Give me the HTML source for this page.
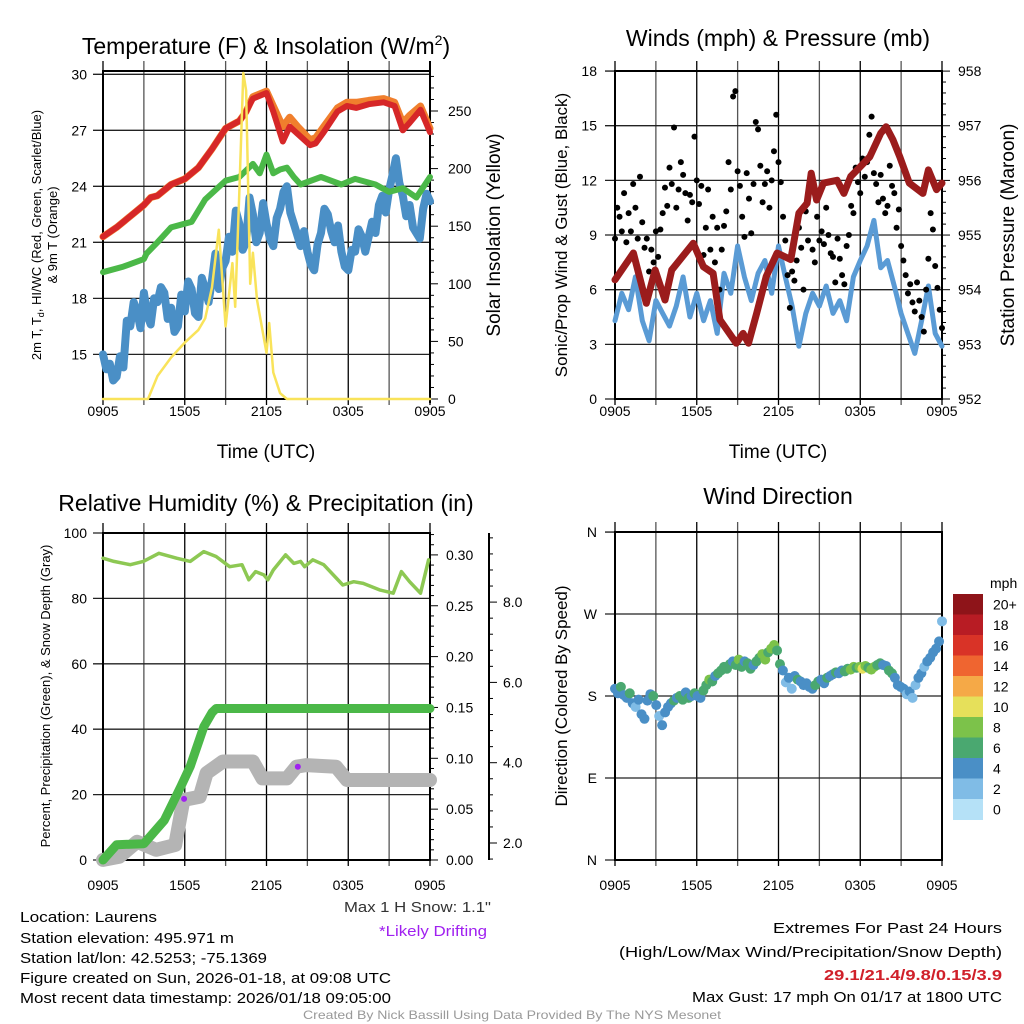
<!DOCTYPE html>
<html><head><meta charset="utf-8"><style>
html,body{margin:0;padding:0;background:#fff;}
svg{display:block;font-family:"Liberation Sans",Arial,sans-serif;}
</style></head><body>
<svg id="chart" width="1024" height="1024" viewBox="0 0 1024 1024" xmlns="http://www.w3.org/2000/svg">
<rect x="0" y="0" width="1024" height="1024" fill="#fff"/>
<text x="266" y="54" font-size="23" text-anchor="middle">Temperature (F) &amp; Insolation (W/m<tspan dy="-9" font-size="14">2</tspan><tspan dy="9">)</tspan></text>
<text x="778" y="46" font-size="23" text-anchor="middle">Winds (mph) &amp; Pressure (mb)</text>
<text x="266" y="511" font-size="23" text-anchor="middle">Relative Humidity (%) &amp; Precipitation (in)</text>
<text x="778" y="504" font-size="23" text-anchor="middle">Wind Direction</text>
<text font-size="13" text-anchor="middle" transform="translate(41,235) rotate(-90)">2m T, T<tspan font-size="9" dy="3">d</tspan><tspan dy="-3">, HI/WC (Red, Green, Scarlet/Blue)</tspan></text>
<text font-size="13" text-anchor="middle" transform="translate(57,235) rotate(-90)">&amp; 9m T (Orange)</text>
<text font-size="19" text-anchor="middle" transform="translate(500,235) rotate(-90)">Solar Insolation (Yellow)</text>
<text x="266" y="458" font-size="19" text-anchor="middle">Time (UTC)</text>
<text x="778" y="458" font-size="19" text-anchor="middle">Time (UTC)</text>
<text font-size="17" text-anchor="middle" transform="translate(567,235) rotate(-90)">Sonic/Prop Wind &amp; Gust (Blue, Black)</text>
<text font-size="19" text-anchor="middle" transform="translate(1014,235) rotate(-90)">Station Pressure (Maroon)</text>
<text font-size="13" text-anchor="middle" transform="translate(50,696) rotate(-90)">Percent, Precipitation (Green), &amp; Snow Depth (Gray)</text>
<text font-size="17" text-anchor="middle" transform="translate(567,696) rotate(-90)">Direction (Colored By Speed)</text>
<text x="990" y="588" font-size="14">mph</text>
<g font-size="15">
<text x="20" y="922" textLength="137" lengthAdjust="spacingAndGlyphs">Location: Laurens</text>
<text x="20" y="943" textLength="214" lengthAdjust="spacingAndGlyphs">Station elevation: 495.971 m</text>
<text x="20" y="963" textLength="247" lengthAdjust="spacingAndGlyphs">Station lat/lon: 42.5253; -75.1369</text>
<text x="20" y="983" textLength="371" lengthAdjust="spacingAndGlyphs">Figure created on Sun, 2026-01-18, at 09:08 UTC</text>
<text x="20" y="1003" textLength="371" lengthAdjust="spacingAndGlyphs">Most recent data timestamp: 2026/01/18 09:05:00</text>
</g>
<text x="344" y="912" font-size="15" fill="#333" textLength="147" lengthAdjust="spacingAndGlyphs">Max 1 H Snow: 1.1"</text>
<text x="379" y="936" font-size="15" fill="#a020f0" textLength="108" lengthAdjust="spacingAndGlyphs">*Likely Drifting</text>
<text x="773" y="933" font-size="15" textLength="229" lengthAdjust="spacingAndGlyphs">Extremes For Past 24 Hours</text>
<text x="619" y="957" font-size="15" textLength="383" lengthAdjust="spacingAndGlyphs">(High/Low/Max Wind/Precipitation/Snow Depth)</text>
<text x="824" y="980" font-size="15" font-weight="bold" fill="#d0202a" textLength="178" lengthAdjust="spacingAndGlyphs">29.1/21.4/9.8/0.15/3.9</text>
<text x="692" y="1002" font-size="15" textLength="310" lengthAdjust="spacingAndGlyphs">Max Gust: 17 mph On 01/17 at 1800 UTC</text>
<text x="303" y="1019" font-size="12" fill="#999" textLength="418" lengthAdjust="spacingAndGlyphs">Created By Nick Bassill Using Data Provided By The NYS Mesonet</text>
</svg>
<script>
// ---------- Panel 1 data ----------
const tempTimes = [0,1,2,3,3.5,4,5,6,7,8,9,10,10.5,11,12,12.5,13.2,13.7,14.3,15.2,15.6,16.2,17.2,17.9,18.6,19.5,20.6,21.4,22.0,22.5,23.3,24];
const tempVals  = [21.3,21.8,22.4,23.0,23.4,23.5,24.1,24.4,25.0,26.0,27.1,27.5,28.0,28.7,29.0,28.0,26.4,27.2,26.8,26.2,26.3,26.9,28.0,28.3,28.2,28.4,28.5,28.3,27.0,27.4,28.1,26.9];
const temp9Vals = [21.3,21.8,22.4,23.0,23.4,23.5,24.1,24.4,25.0,26.0,27.1,27.5,28.0,28.8,29.1,28.3,27.2,27.7,27.2,26.5,26.6,27.2,28.2,28.5,28.5,28.6,28.7,28.5,27.4,27.8,28.3,27.1];
const dewTimes = [0,1.5,3,3.2,4,5,6.5,7.5,9,10,11,11.5,12,12.5,13,13.5,14,14.5,16,17.5,18.5,20,21,22,23,24];
const dewVals  = [19.4,19.7,20.1,20.4,21.0,21.8,22.1,23.3,24.3,24.5,25.2,24.7,25.7,24.7,24.9,25.0,24.5,24.1,24.5,24.1,24.4,24.1,23.7,23.9,23.4,24.5];
const chillTimes = [0,0.25,0.5,0.75,1,1.25,1.5,1.75,2,2.25,2.5,2.75,3,3.25,3.5,3.75,4,4.25,4.5,4.75,5,5.25,5.5,5.75,6,6.25,6.5,6.75,7,7.25,7.5,7.75,8,8.25,8.5,8.75,9,9.25,9.5,9.75,10,10.25,10.5,10.75,11,11.25,11.5,11.75,12,12.25,12.5,12.75,13,13.25,13.5,13.75,14,14.25,14.5,14.75,15,15.25,15.5,15.75,16,16.25,16.5,16.75,17,17.25,17.5,17.75,18,18.25,18.5,18.75,19,19.25,19.5,19.75,20,20.25,20.5,20.75,21,21.25,21.5,21.75,22,22.25,22.5,22.75,23,23.25,23.5,23.75,24];
const chillVals  = [15.0,14.2,14.5,13.6,13.8,14.9,14.3,16.8,16.5,17.8,17.3,16.4,18.3,17.1,16.6,18.0,17.8,18.6,18.3,16.9,17.5,16.2,16.5,18.2,17.3,18.9,18.5,17.2,17.0,19.1,18.5,17.8,19.0,20.4,18.5,19.6,20.0,21.3,20.5,22.7,22.0,20.6,21.0,23.4,22.5,21.0,21.5,23.1,22.0,21.2,20.8,22.3,22.8,23.7,24.0,22.6,22.0,21.4,20.8,21.6,20.5,19.8,19.5,20.9,21.5,22.8,22.5,21.6,21.0,21.9,20.5,19.7,19.5,20.6,20.5,21.7,21.3,20.5,21.3,22.1,21.5,23.0,23.5,22.6,23.8,24.6,25.5,24.2,23.5,22.4,23.0,21.8,21.5,21.2,22.8,23.6,23.2];
const insolTimes = [0,3.3,4,5,6,7,7.5,8,8.5,9,9.5,9.7,10,10.3,10.5,10.8,11,11.3,12,12.2,12.5,13,13.5,24];
const insolVals  = [0,0,20,36,49,60,70,97,147,63,118,80,179,283,268,100,127,86,40,66,23,5,0,0];
const tempTicks = [15,18,21,24,27,30];
const insolTicks = [0,50,100,150,200,250];
const timeTickLabels = ["0905","1505","2105","0305","0905"];
const timeTickHours = [0,6,12,18,24];

// ---------- Panel 2 data ----------
const pressTimes = [0,1.35,2.3,2.94,3.67,4.16,5.75,6.49,7.2,7.7,8.9,9.4,9.8,10.4,11.1,11.9,12.9,13.5,14.1,14.4,14.8,15.3,16.3,16.8,17.3,18.0,18.7,19.5,19.9,20.4,20.9,21.6,22.6,23.0,23.6,24];
const pressVals  = [954.18,954.67,953.75,954.36,953.81,954.36,954.85,954.42,954.3,953.45,953.02,953.2,953.02,953.57,954.24,954.67,954.55,955.4,955.58,956.13,955.64,955.95,956.0,955.76,956.07,956.25,956.43,956.86,956.98,956.74,956.43,955.95,955.76,956.19,955.83,955.95];
const windVals = [4.3,5.8,4.9,6.7,4.3,3.2,5.4,4.7,4.0,5.1,6.7,4.5,5.8,4.3,5.4,3.6,6.9,5.8,8.4,6.7,5.4,6.9,7.6,5.8,8.4,6.7,5.1,2.9,4.7,5.8,5.1,6.2,4.7,5.4,4.3,6.7,7.6,8.4,9.8,7.2,7.6,6.2,4.7,3.6,2.5,4.3,6.2,3.6,2.9];
const gustVals = [8.8,10.5,10.0,9.2,11.3,8.6, 10.2,9.2,11.8,10.5,8.8,12.2, 9.7,8.3,8.8,7.0,8.2,7.5, 9.2,7.8,9.3,10.2,11.6,10.6,
 12.7,11.8,14.9,10.5,11.5,13.0, 12.3,11.3,9.8,11.2,10.8,14.4, 12.0,10.7,11.7,7.9,9.4,11.5, 8.2,10.0,7.5,9.4,6.0,8.2,
 9.5,10.3,13.0,11.5,16.6,16.9, 12.5,11.7,10.0,8.9,12.4,11.0, 9.1,11.8,15.2,14.8,12.8,10.8, 11.8,12.5,10.5,12.0,13.6,15.6,
 13.0,11.9,10.0,8.7,6.8,5.0, 7.0,6.5,7.6,9.4,8.3,6.0, 10.3,8.7,11.5,8.2,7.5,10.0, 8.7,9.2,8.5,10.5,9.0,8.0,
 7.8,6.4,8.8,7.7,6.8,6.3, 8.4,9.0,10.6,10.2,12.7,11.9, 11.3,13.2,12.2,13.0,14.5,15.5, 12.4,11.8,10.8,12.3,11.0,10.2,
 10.6,12.8,11.7,11.3,9.4,10.4, 8.4,7.6,6.8,5.8,6.3,5.3, 4.8,6.4,5.4,4.5,3.7,6.0, 7.7,10.2,9.3,7.3,6.1,4.9, 3.9];
const windTicks = [0,3,6,9,12,15,18];
const pressTicks = [952,953,954,955,956,957,958];

// ---------- Panel 3 data ----------
const rhTimes = [0,0.8,2,2.96,4.1,5.4,6.4,7.4,8.3,9.3,10.2,10.7,11.2,11.8,12.1,12.5,13.4,14,14.5,14.8,15.4,16.2,17.6,18.4,19.1,20.3,21.3,21.9,22.5,23.3,23.9];
const rhVals  = [92.3,91.3,90.3,91.3,93.8,92.3,91.3,94.3,92.8,89.7,90.3,85.7,88.2,87.2,85.7,88.7,93.3,90.7,91.3,89.7,91.8,90.3,84.1,85.1,84.6,82.6,81.6,88.2,85.1,81.6,91.8];
const precipTimes = [0,1,3,4.5,5.7,6.4,7.4,8.0,8.3,24];
const precipVals  = [0,0.015,0.016,0.039,0.072,0.092,0.131,0.145,0.149,0.149];
const snowTimes = [0,1.2,2.5,3.9,5.3,5.9,7.1,7.6,8.8,11,11.7,13.5,14.2,14.9,17.1,17.9,24];
const snowVals  = [1.58,1.66,2.03,1.83,1.95,3.07,3.15,3.74,4.03,4.03,3.61,3.61,3.90,3.94,3.90,3.57,3.57];
const driftTimes = [5.95,14.3];
const driftVals  = [3.1,3.9];
const rhTicks = [0,20,40,60,80,100];
const precipTicks = ["0.00","0.05","0.10","0.15","0.20","0.25","0.30"];
const snowTicks = ["2.0","4.0","6.0","8.0"];

// ---------- Panel 4 data ----------
const dirVals = [188,183,190,181,178,183,172,168,176,160,155,
 175,182,180,170,158,148,162,168,172, 175,178,180,176,184,178,180,183,180,
 178,186,192,198,196,202,205,208,212, 210,215,218,214,220,212,218,216,210,
 214,218,222,226,220,228,232,236,230, 215,208,195,200,188,202,198,196,192,
 194,190,188,192,196,198,194,200,202, 204,206,205,208,207,210,209,212,211,
 212,210,213,211,209,212,214,216,214, 213,208,205,200,192,190,188,182,185,
 178,192,200,205,212,218,222,228,232, 240,262];
const speedVals = [4,4,6,4,4,6,4,2,4,4,4, 4,4,6,4,2,4,4,4,4, 6,4,6,6,4,6,4,6,4, 4,6,6,8,6,4,6,6,6,
 6,6,4,6,8,6,4,6,6, 4,6,6,8,8,6,8,8,6, 6,4,2,4,2,4,6,4,4, 4,4,4,6,6,4,4,6,4,
 4,6,4,4,6,6,8,8,6, 8,10,8,6,8,8,6,6,4, 4,6,6,4,4,4,4,2,4, 2,2,4,4,2,4,4,4,4, 4,2,2,4,4,6,4,4,4, 2,2];
const dirTickLabels = ["N","E","S","W","N"];
const dirTickDegs = [0,90,180,270,360];
const colorLabels = ["20+","18","16","14","12","10","8","6","4","2","0"];
const colorFills = ["#8e1419","#b81c24","#d93327","#ef6530","#f5a947","#e6e05a","#7cc24a","#4aa870","#4a8fc6","#80bce6","#b5e1f7"];

// ---------- drawing ----------
const NS='http://www.w3.org/2000/svg';
const svg=document.getElementById('chart');
function mk(tag, attrs, parent){const e=document.createElementNS(NS,tag);for(const k in attrs)e.setAttribute(k,attrs[k]);(parent||svg).appendChild(e);return e;}
function pathD(ts, vs, fx, fy){return ts.map((t,i)=>(i?'L':'M')+fx(t).toFixed(1)+','+fy(vs[i]).toFixed(1)).join(' ');}

function frame(name, x0,x1,y0,y1, hYs){
  const g=mk('g',{});
  
  
  for(let h=0;h<=24;h+=3){const x=x0+h/24*(x1-x0);
    const l=mk('line',{x1:x,x2:x,y1:y0-10,y2:y1+6,stroke:(h%6===0?'#000':'#555'),'stroke-width':1.3},g);
    
    }
  hYs.forEach(y=>{const l=mk('line',{x1:x0-10,x2:x1,y1:y,y2:y,stroke:'#222','stroke-width':1.3},g);
    
    });
  const b=mk('rect',{x:x0,y:y0,width:x1-x0,height:y1-y0,fill:'none',stroke:'#000','stroke-width':2},g);
  
  
}
function xLabels(x0,x1,y){
  timeTickHours.forEach((h,i)=>{const t=mk('text',{x:x0+h/24*(x1-x0),y:y,'font-size':14,'text-anchor':'middle'});t.textContent=timeTickLabels[i];
    
    });
}
function yLabel(x,y,txt,anchor,size){const t=mk('text',{x:x,y:y+5,'font-size':size||14,'text-anchor':anchor});t.textContent=txt;
  
  return t;}
function series(name,d,stroke,w,op){const p=mk('path',{d:d,fill:'none',stroke:stroke,'stroke-width':w,'stroke-linejoin':'round','stroke-linecap':'round',opacity:op||1});
  
  return p;}
function rightTicks(x,yTop,yBot,step,majorEvery){for(let y=yBot,i=0;y>=yTop-0.5;y-=step,i++){const len=(i%majorEvery===0)?8:4;
  const l=mk('line',{x1:x,x2:x+len,y1:y,y2:y,stroke:'#000','stroke-width':1});
  
  }}

// Panel 1
{const x0=103,x1=430,y0=71,y1=399;
 const fx=t=>x0+t/24*(x1-x0), fy=v=>74.3+(30-v)*18.67, fi=v=>399-v*1.152;
 frame('temperature-panel',x0,x1,y0,y1,tempTicks.map(fy));
 tempTicks.forEach(v=>yLabel(87,fy(v),String(v),'end'));
 const ax=mk('line',{x1:x1,x2:x1,y1:y0-10,y2:y1+4,stroke:'#000','stroke-width':2});
 
 
 rightTicks(x1,y0,y1,11.52,5);
 insolTicks.forEach(v=>yLabel(448,fi(v),String(v),'start'));
 xLabels(x0,x1,416);
 series('wind-chill-line',pathD(chillTimes,chillVals,fx,fy),'#4a8fc6',8);
 series('dewpoint-line',pathD(dewTimes,dewVals,fx,fy),'#4bb848',6);
 series('temp-9m-line',pathD(tempTimes,temp9Vals,fx,fy),'#f07f2d',7);
 series('temp-2m-line',pathD(tempTimes,tempVals,fx,fy),'#d62728',6);
 series('insolation-line',pathD(insolTimes,insolVals,fx,fi),'#f9e35a',2.5);
}
// Panel 2
{const x0=615,x1=942,y0=71,y1=399;
 const fx=t=>x0+t/24*(x1-x0), fw=v=>399-v*18.22, fp=v=>399-(v-952)*54.67;
 frame('wind-panel',x0,x1,y0,y1,windTicks.map(fw));
 windTicks.forEach(v=>yLabel(597,fw(v),String(v),'end'));
 rightTicks(x1,y0,y1,10.93,5);
 pressTicks.forEach(v=>yLabel(958,fp(v),String(v),'start'));
 xLabels(x0,x1,416);
 series('wind-speed-line',pathD(windVals.map((v,i)=>i*24/(windVals.length-1)),windVals,fx,fw),'#5a9bd5',5);
 gustVals.forEach((v,i)=>{const c=mk('circle',{cx:fx(i*24/(gustVals.length-1)),cy:fw(v),r:3,fill:'#000'});
   
   });
 series('pressure-line',pathD(pressTimes,pressVals,fx,fp),'#9b1c1c',7);
}
// Panel 3
{const x0=103,x1=430,y0=533,y1=860;
 const fx=t=>x0+t/24*(x1-x0), fr=v=>860-v*3.27, fpr=v=>860-v*1016.7, fs=v=>843-(v-2)*40.15;
 frame('humidity-panel',x0,x1,y0,y1,rhTicks.map(fr));
 rhTicks.forEach(v=>yLabel(87,fr(v),String(v),'end'));
 rightTicks(x1,y0,y1,10.17,5);
 precipTicks.forEach(s=>yLabel(446,fpr(parseFloat(s)),s,'start'));
 const sa=mk('line',{x1:489,x2:489,y1:533,y2:860,stroke:'#000','stroke-width':2});
 
 
 for(let k=0;k<=22;k++){const v=1.6+k*0.4;const y=fs(v);if(y<535||y>860)continue;
   const major=(k%5===1);
   const l=mk('line',{x1:489,x2:489+(major?8:4),y1:y,y2:y,stroke:'#000','stroke-width':1});
   
   }
 snowTicks.forEach(s=>yLabel(503,fs(parseFloat(s)),s,'start'));
 xLabels(x0,x1,890);
 series('snow-depth-line',pathD(snowTimes,snowVals,fx,fs),'#b4b4b4',14);
 series('precipitation-line',pathD(precipTimes,precipVals,fx,fpr),'#4bb848',9);
 series('humidity-line',pathD(rhTimes,rhVals,fx,fr),'#8dc853',3.5);
 driftTimes.forEach((t,i)=>{const c=mk('circle',{cx:fx(t),cy:fs(driftVals[i]),r:3,fill:'#a020f0'});
   
   });
}
// Panel 4
{const x0=615,x1=942,y0=532,y1=860;
 const fx=t=>x0+t/24*(x1-x0), fd=v=>860-v*0.911;
 frame('direction-panel',x0,x1,y0,y1,dirTickDegs.map(fd));
 dirTickDegs.forEach((d,i)=>yLabel(597,fd(d),dirTickLabels[i],'end'));
 xLabels(x0,x1,890);
 dirVals.forEach((v,i)=>{const sp=speedVals[Math.min(i,speedVals.length-1)];
   const idx=Math.min(10,Math.max(0,10-Math.floor(sp/2)));
   const c=mk('circle',{cx:fx(i*24/(dirVals.length-1)),cy:fd(v),r:5,fill:colorFills[idx]});
   
   });
 const bh=20.5;
 colorLabels.forEach((lab,i)=>{const r=mk('rect',{x:953,y:594+i*bh,width:30,height:bh+0.5,fill:colorFills[i]});
   
   
   const t=mk('text',{x:993,y:594+i*bh+bh/2+5,'font-size':14});t.textContent=lab;
   
   });
}
</script>
</body></html>
